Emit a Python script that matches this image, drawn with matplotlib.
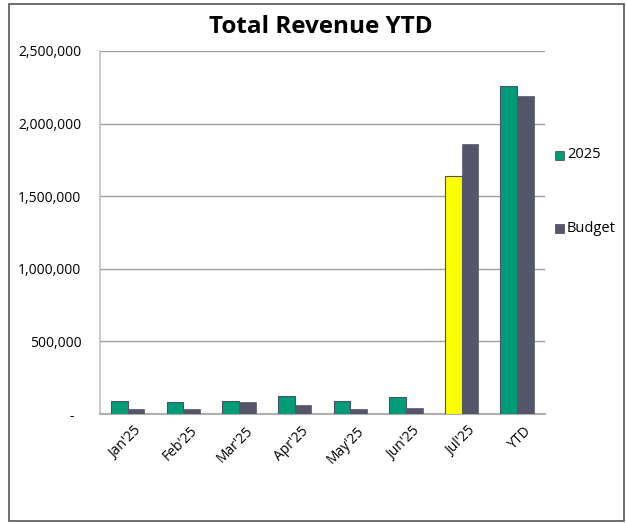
import matplotlib
matplotlib.use("Agg")
import matplotlib.pyplot as plt
from matplotlib.patches import Rectangle
import matplotlib.transforms as mtransforms
import numpy as np

plt.rcParams["font.family"] = ["Open Sans", "DejaVu Sans"]

categories = ["Jan'25", "Feb'25", "Mar'25", "Apr'25", "May'25", "Jun'25", "Jul'25", "YTD"]
revenue_2025 = [89500, 85000, 92000, 124000, 90000, 119000, 1637000, 2261000]
budget = [36000, 36000, 80000, 62000, 36000, 39000, 1862000, 2192000]
y_ticks = [0, 500000, 1000000, 1500000, 2000000, 2500000]

green = "#009B77"
slate = "#55566A"
highlight = "#FFFF00"
edge = "#4A5366"

fig = plt.figure(figsize=(6.26, 5.23), dpi=100)
ax = fig.add_axes([0.1597, 0.2084, 0.7109, 0.6941])

x = np.arange(len(categories))
w = 0.3
colors_2025 = [highlight if c == "Jul'25" else green for c in categories]
ax.bar(x - w / 2, revenue_2025, width=w, color=colors_2025, edgecolor=edge,
       linewidth=0.8, zorder=3, label="2025")
ax.bar(x + w / 2, budget, width=w, color=slate, edgecolor=slate,
       linewidth=0.5, zorder=3, label="Budget")

ax.set_xlim(-0.5, len(categories) - 0.5)
ax.set_ylim(0, 2500000)
ax.set_yticks(y_ticks)
ax.set_yticklabels(["-  " if v == 0 else f"{v:,}" for v in y_ticks])
ax.tick_params(axis="y", length=0, pad=13.5, labelsize=10, colors="black")
ax.set_xticks(x)
ax.set_xticklabels(categories, rotation=45, ha="right", rotation_mode="anchor")
ax.tick_params(axis="x", length=0, pad=7, labelsize=10)
shift = mtransforms.ScaledTranslation(6 / 100, 0, fig.dpi_scale_trans)
for lbl in ax.get_xticklabels():
    lbl.set_transform(lbl.get_transform() + shift)

ax.yaxis.grid(True, color="#A0A0A0", linewidth=1.0, zorder=0)
for s in ["top", "right"]:
    ax.spines[s].set_visible(False)
ax.spines["left"].set_color("#C0C0C0")
ax.spines["left"].set_linewidth(1.2)
ax.spines["bottom"].set_color("#B0B0B0")
ax.spines["bottom"].set_linewidth(1.5)

fig.text(0.512, 0.948, "Total Revenue YTD", ha="center", va="center",
         fontsize=17.5, fontweight="bold")

# legend entries placed at the right of the plot
for label, col, ec, ypix in [("2025", green, edge, 155), ("Budget", slate, slate, 228)]:
    yf = 1 - ypix / 523
    fig.patches.append(Rectangle((555 / 626, yf - 4.5 / 523), 9 / 626, 9 / 523,
                                 transform=fig.transFigure, facecolor=col,
                                 edgecolor=ec, linewidth=0.6))
    fig.text(567 / 626, yf, label, ha="left", va="center", fontsize=10.5)

# outer frame
fig.patches.append(Rectangle((9 / 626, 2 / 523), 615 / 626, 517 / 523,
                             transform=fig.transFigure, fill=False,
                             edgecolor="#555555", linewidth=1.2))

fig.savefig("out.png", dpi=100)
